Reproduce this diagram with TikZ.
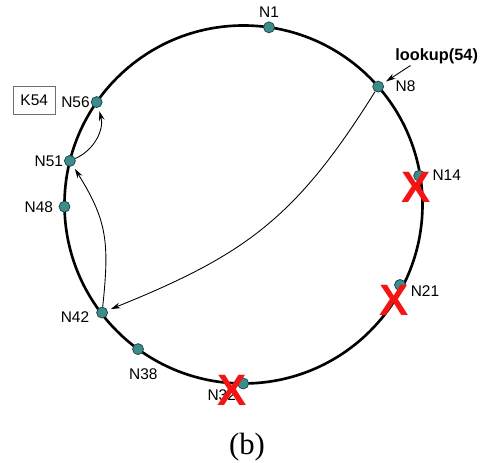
\documentclass[tikz,border=0pt]{standalone}
\usepackage{fontspec}
\setmainfont{Liberation Sans}
\newfontfamily\captionserif{Liberation Serif}
\usetikzlibrary{arrows.meta}
\definecolor{dotfill}{RGB}{60,140,140}
\definecolor{dotline}{RGB}{25,65,65}
\definecolor{xred}{RGB}{245,20,20}
\definecolor{boxline}{RGB}{110,110,110}
\begin{document}
\begin{tikzpicture}[x=0.02cm,y=0.02cm,
  ring/.style={line width=1.5pt},
  peer/.style={circle,fill=dotfill,draw=dotline,line width=0.4pt,minimum size=0.22cm,inner sep=0pt},
  lbl/.style={font=\fontsize{8.8}{10}\selectfont,inner sep=0pt},
  cross/.style={text=xred,font=\fontsize{25}{25}\selectfont\bfseries,inner sep=0pt},
  hop/.style={line width=0.5pt,-{Stealth[length=5.5pt,width=3.2pt]},shorten >=2pt}
]
\useasboundingbox (0,0) rectangle (481,463);
\coordinate (c) at (243.5,258.5);
\draw[ring] (c) circle[radius=179];

% peers on the ring
\begin{scope}[shift={(243.5,258.5)}]
  \node[peer] (n1)  at (81.8:179)  {};
  \node[peer] (n8)  at (41.2:179)  {};
  \node[peer] (n14) at (9.3:178)   {};
  \node[peer] (n21) at (-27.2:176) {};
  \node[peer] (n32) at (-90.1:179) {};
  \node[peer] (n38) at (233.9:179) {};
  \node[peer] (n42) at (217.4:178) {};
  \node[peer] (n48) at (180.7:179) {};
  \node[peer] (n51) at (165.9:179) {};
  \node[peer] (n56) at (145.1:179) {};
\end{scope}

% lookup hops
\draw[hop] (n8) to[out=238,in=22,looseness=1.1] (n42);
\draw[hop] (n42) to[out=84,in=302,looseness=1.15] (n51);
\draw[hop] (n51) to[out=24,in=286] (n56);
\coordinate (lk) at (410.5,397.5);
\draw[hop] (lk) -- (n8);

% labels
\node[lbl] (t1)  at (269,451.3) {N1};
\node[lbl] (t8)  at (405.5,377) {N8};
\node[lbl] (t14) at (446.7,287.5) {N14};
\node[lbl] (t21) at (425,171.5) {N21};
\node[lbl] (t32) at (221.7,68) {N32};
\node[lbl] (t38) at (143.3,88.5) {N38};
\node[lbl] (t42) at (75,146.3) {N42};
\node[lbl] (t48) at (38.8,256) {N48};
\node[lbl] (t51) at (48.8,302) {N51};
\node[lbl] (t56) at (75.5,361) {N56};
\node[font=\fontsize{9.3}{10}\selectfont\bfseries,inner sep=0pt,anchor=base] (lookup) at (436.7,402.3) {lookup(54)};
\node[draw=boxline,line width=0.5pt,minimum width=41.7*0.02cm,minimum height=28*0.02cm,inner sep=0pt,font=\fontsize{8.8}{10}\selectfont] (key) at (34.2,363) {K54};

% failed nodes
\node[cross] (x14) at (416.5,275.5) {X};
\node[cross] (x21) at (394.5,162.5) {X};
\node[cross] (x32) at (231.7,73) {X};

% caption
\node[font=\captionserif\fontsize{17.5}{17.5}\selectfont,inner sep=0pt,anchor=base] (cap) at (247,8) {(b)};
\end{tikzpicture}
\end{document}
